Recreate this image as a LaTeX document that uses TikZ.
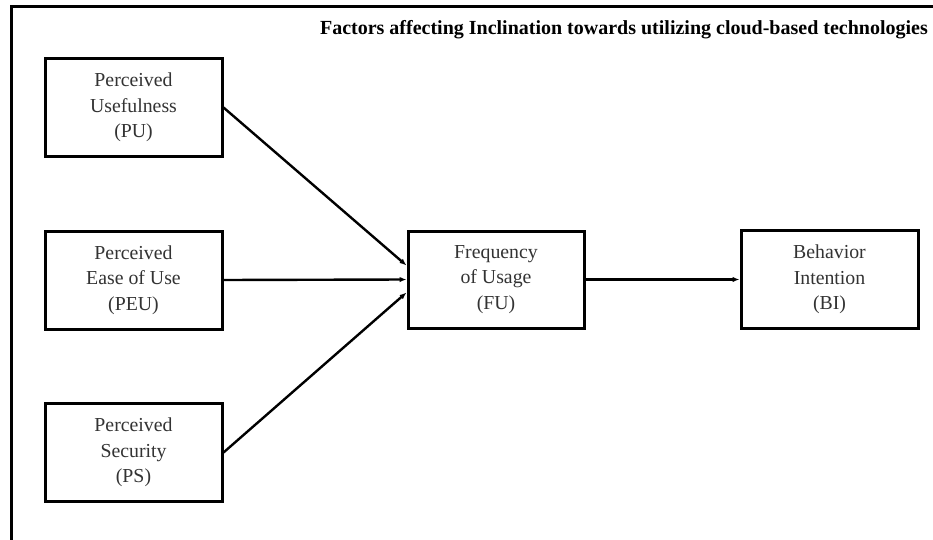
\documentclass[tikz,border=0pt]{standalone}
\usepackage{fontspec}
\setmainfont{Liberation Serif}
\usetikzlibrary{arrows.meta}
\begin{document}
\begin{tikzpicture}[x=1pt,y=-1pt,
  factorbox/.style={draw=black, line width=3pt, minimum width=177pt, minimum height=98pt,
    inner sep=0pt, align=center, text=black!80, font=\fontsize{19.8}{25.5}\selectfont},
  conn/.style={line width=2.4pt, -{Latex[length=7pt,width=5.5pt]}}]
\useasboundingbox (0,0) rectangle (933,540);
\fill[white] (0,0) rectangle (933,540);
\coordinate (corner) at (11,7);
\coordinate (topright) at (933,7);
\coordinate (bottomleft) at (11,540);
\draw[line width=3pt] (topright) -- (corner) -- (bottomleft);
\node[anchor=east, font=\bfseries\fontsize{20}{22}\selectfont, inner sep=0pt] (title) at (928,30)
  {Factors affecting Inclination towards utilizing cloud-based technologies};
\node[factorbox] (PU) at (133.5,107.5) {Perceived\\Usefulness\\(PU)};
\node[factorbox] (PEU) at (133.5,280) {Perceived\\Ease of Use\\(PEU)};
\node[factorbox] (PS) at (133.5,452.5) {Perceived\\Security\\(PS)};
\node[factorbox, minimum width=176pt, minimum height=97pt] (FU) at (496,279.5) {Frequency\\of Usage\\(FU)};
\node[factorbox] (BI) at (829.5,279.5) {Behavior\\Intention\\(BI)};
\draw[conn] (PU.east) -- ([yshift=14pt]FU.west);
\draw[conn] (PEU.east) -- (FU.west);
\draw[conn] (PS.east) -- ([yshift=-13pt]FU.west);
\draw[conn] (FU.east) -- (BI.west);
\end{tikzpicture}
\end{document}
